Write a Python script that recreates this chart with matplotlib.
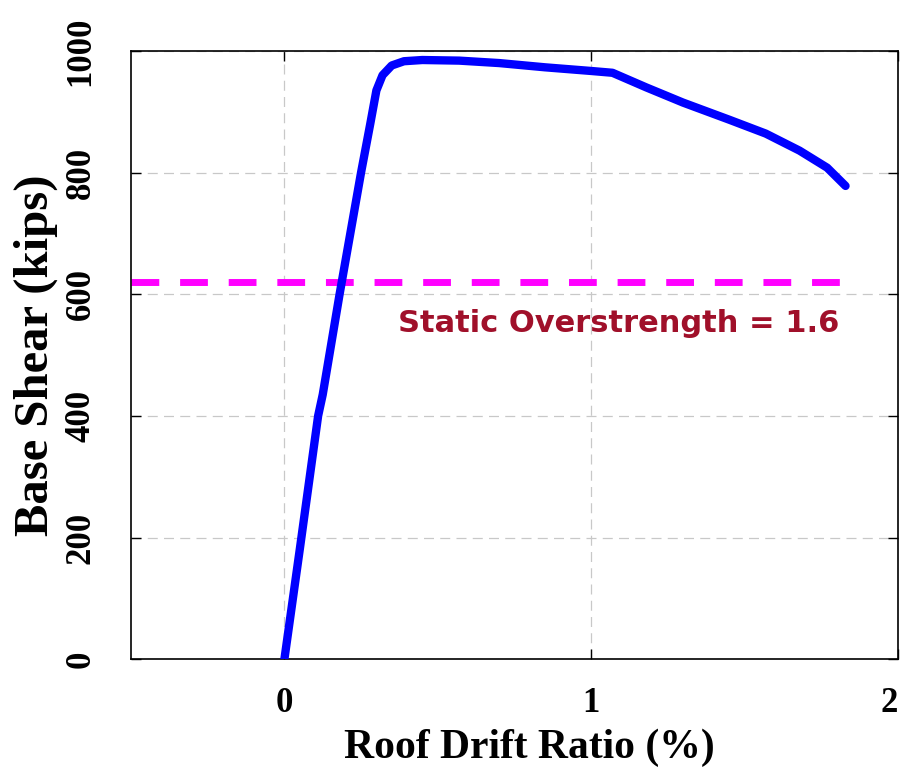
import numpy as np
import matplotlib.pyplot as plt

# pushover curve: roof drift ratio (%) vs base shear (kips)
drift = [0.0, 0.05, 0.11, 0.125, 0.18, 0.25, 0.28, 0.30, 0.32, 0.35, 0.39, 0.45,
         0.57, 0.70, 0.85, 1.0, 1.07, 1.18, 1.30, 1.45, 1.57, 1.68, 1.77, 1.83]
shear = [0, 180, 400, 435, 600, 800, 880, 935, 960, 976, 983, 985,
         984, 980, 973, 967, 964, 940, 915, 887, 864, 836, 808, 778]

static_level = 620
static_x = [-0.5, 1.82]
note = "Static Overstrength = 1.6"

xticks = [0, 1, 2]
yticks = [0, 200, 400, 600, 800, 1000]

fig = plt.figure(figsize=(9.04, 7.71), dpi=100)
ax = fig.add_axes([0.145, 0.145, 0.848, 0.789])

ax.plot(drift, shear, color='#0000ff', lw=6, solid_capstyle='round',
        solid_joinstyle='round', zorder=3)
ax.plot(static_x, [static_level, static_level], color='#ff00ff', lw=5,
        dashes=(4, 3), dash_capstyle='butt', zorder=2)
ax.text(1.81, 552, note, color='#a0102a', fontsize=22, fontweight='bold',
        family='DejaVu Sans', ha='right', va='center')

ax.set_xlim(-0.5, 2)
ax.set_ylim(0, 1000)
ax.set_xticks(xticks)
ax.set_yticks(yticks)

serif = {'family': 'Liberation Serif', 'weight': 'bold'}
xlabels = ax.set_xticklabels([str(t) for t in xticks], fontdict={**serif, 'size': 25})
xlabels[-1].set_ha('right')  # keep the last label inside the figure
ax.set_yticklabels([str(t) for t in yticks], fontdict={**serif, 'size': 25},
                   rotation=90, va='center')
ax.set_xlabel("Roof Drift Ratio (%)", fontdict={**serif, 'size': 30}, labelpad=6)
ax.xaxis.label.set_x(0.52)
ax.set_ylabel("Base Shear (kips)", fontdict={**serif, 'size': 35}, labelpad=5)

ax.tick_params(direction='in', length=7, width=1, top=True, right=True)
ax.tick_params(axis='x', pad=20)
ax.tick_params(axis='y', pad=24)

ax.grid(True, color='#c8c8c8', lw=0.9, dashes=(8, 5))
ax.set_axisbelow(True)
for s in ax.spines.values():
    s.set_linewidth(1.2)

fig.savefig("out.png", dpi=100)
